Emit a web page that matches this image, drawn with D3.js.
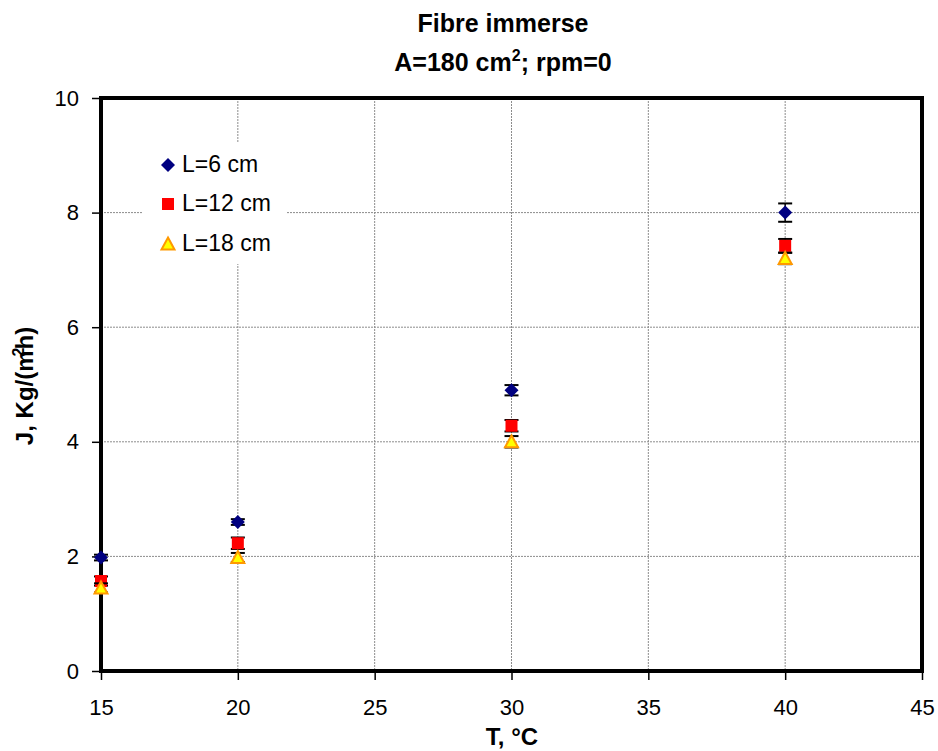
<!DOCTYPE html>
<html>
<head>
<meta charset="utf-8">
<script src="https://cdn.jsdelivr.net/npm/d3@7"></script>
<style>
  html, body { margin: 0; padding: 0; background: #fff; }
  text { font-family: "Liberation Sans", Arial, sans-serif; }
</style>
</head>
<body>
<svg id="chart" width="938" height="751"></svg>
<script>
// Temperatures (°C)
const temps = [15, 20, 30, 40];
// Flux J, Kg/(m²h), per fibre length, with standard deviation
const seriesNames = ["L=6 cm", "L=12 cm", "L=18 cm"];
const fluxL6 = [1.98, 2.60, 4.90, 8.00];
const errL6 = [0.05, 0.05, 0.09, 0.16];
const fluxL12 = [1.57, 2.23, 4.28, 7.42];
const errL12 = [0.08, 0.10, 0.10, 0.12];
const fluxL18 = [1.45, 1.98, 4.00, 7.20];
const errL18 = [0.08, 0.08, 0.10, 0.10];
const xTicks = [15, 20, 25, 30, 35, 40, 45];
const yTicks = [0, 2, 4, 6, 8, 10];

const series = [
  { name: seriesNames[0], values: fluxL6, errs: errL6, shape: "diamond" },
  { name: seriesNames[1], values: fluxL12, errs: errL12, shape: "square" },
  { name: seriesNames[2], values: fluxL18, errs: errL18, shape: "triangle" }
];

const svg = d3.select("#chart");
const m = { left: 101, right: 922, top: 98, bottom: 671 };

const x = d3.scaleLinear().domain([15, 45]).range([m.left, m.right]);
const y = d3.scaleLinear().domain([0, 10]).range([m.bottom, m.top]);

// Gridlines
const grid = svg.append("g");
grid.selectAll("line.gx").data(xTicks.slice(1, -1)).enter().append("line")
  .attr("x1", d => x(d)).attr("x2", d => x(d))
  .attr("y1", m.top).attr("y2", m.bottom)
  .attr("stroke", "#8c8c8c").attr("stroke-width", 1).attr("stroke-dasharray", "2,1");
grid.selectAll("line.gy").data(yTicks.slice(1, -1)).enter().append("line")
  .attr("x1", m.left).attr("x2", m.right)
  .attr("y1", d => y(d)).attr("y2", d => y(d))
  .attr("stroke", "#8c8c8c").attr("stroke-width", 1).attr("stroke-dasharray", "2,1");

// Axes
const xAxis = d3.axisBottom(x).tickValues(xTicks).tickSize(9).tickPadding(19).tickFormat(d3.format("d"));
const yAxis = d3.axisLeft(y).tickValues(yTicks).tickSize(9).tickPadding(13).tickFormat(d3.format("d"));

const gx = svg.append("g").attr("transform", `translate(0,${m.bottom})`).call(xAxis);
const gy = svg.append("g").attr("transform", `translate(${m.left},0)`).call(yAxis);
[gx, gy].forEach(g => {
  g.select(".domain").remove();
  g.selectAll(".tick line").attr("stroke", "#000").attr("stroke-width", 1.5);
  g.selectAll(".tick text").attr("fill", "#000").style("font-size", "22px")
    .style("font-family", "'Liberation Sans', Arial, sans-serif");
});

// Legend background
const legend = svg.append("g");
legend.append("rect").attr("x", 143).attr("y", 142).attr("width", 144).attr("height", 122).attr("fill", "#fff");

// Plot frame
svg.append("rect")
  .attr("x", m.left).attr("y", m.top)
  .attr("width", m.right - m.left).attr("height", m.bottom - m.top)
  .attr("fill", "none").attr("stroke", "#000").attr("stroke-width", 4);

function drawMarker(g, shape, cx, cy) {
  if (shape === "diamond") {
    g.append("path").attr("d", `M${cx},${cy - 7}L${cx + 7},${cy}L${cx},${cy + 7}L${cx - 7},${cy}Z`)
      .attr("fill", "#000080");
  } else if (shape === "square") {
    g.append("rect").attr("x", cx - 6).attr("y", cy - 6).attr("width", 12).attr("height", 12)
      .attr("fill", "#ff0000");
  } else {
    g.append("path").attr("d", `M${cx},${cy - 6.5}L${cx + 6.5},${cy + 5.5}L${cx - 6.5},${cy + 5.5}Z`)
      .attr("fill", "#ffff00").attr("stroke", "#ff9900").attr("stroke-width", 2).attr("stroke-linejoin", "miter");
  }
}

// Error bars and markers
const marks = svg.append("g");
series.forEach(s => {
  const g = marks.append("g");
  s.values.forEach((v, i) => {
    const cx = x(temps[i]);
    const y0 = y(v - s.errs[i]), y1 = y(v + s.errs[i]);
    g.append("line").attr("x1", cx).attr("x2", cx).attr("y1", y0).attr("y2", y1)
      .attr("stroke", "#000").attr("stroke-width", 1.5);
    [y0, y1].forEach(yy => g.append("line").attr("x1", cx - 7).attr("x2", cx + 7)
      .attr("y1", yy).attr("y2", yy).attr("stroke", "#000").attr("stroke-width", 2));
  });
  s.values.forEach((v, i) => drawMarker(g, s.shape, x(temps[i]), y(v)));
});

// Legend entries
const legendRows = [165, 204, 244];
series.forEach((s, i) => {
  const ly = legendRows[i];
  drawMarker(legend, s.shape, 168, ly);
  legend.append("text").attr("x", 182).attr("y", ly + 7).style("font-size", "23px").attr("fill", "#000").text(s.name);
});

// Titles
const title = svg.append("text").attr("text-anchor", "middle")
  .style("font-size", "25px").style("font-weight", "bold");
title.append("tspan").attr("x", 503).attr("y", 32).text("Fibre immerse");
const title2 = svg.append("text").attr("x", 503).attr("y", 71).attr("text-anchor", "middle")
  .style("font-size", "25px").style("font-weight", "bold");
title2.append("tspan").text("A=180 cm");
title2.append("tspan").attr("dy", -10).style("font-size", "16px").text("2");
title2.append("tspan").attr("dy", 10).text("; rpm=0");

svg.append("text").attr("x", 512).attr("y", 745).attr("text-anchor", "middle")
  .style("font-size", "24px").style("font-weight", "bold").text("T, °C");

const yl = svg.append("text").attr("transform", "translate(33,386) rotate(-90)")
  .attr("text-anchor", "middle").style("font-size", "24px").style("font-weight", "bold");
yl.append("tspan").text("J, Kg/(m");
yl.append("tspan").attr("dy", -9).attr("dx", -6).style("font-size", "16px").text("2");
yl.append("tspan").attr("dy", 9).attr("dx", -2).text("h)");
</script>
</body>
</html>
